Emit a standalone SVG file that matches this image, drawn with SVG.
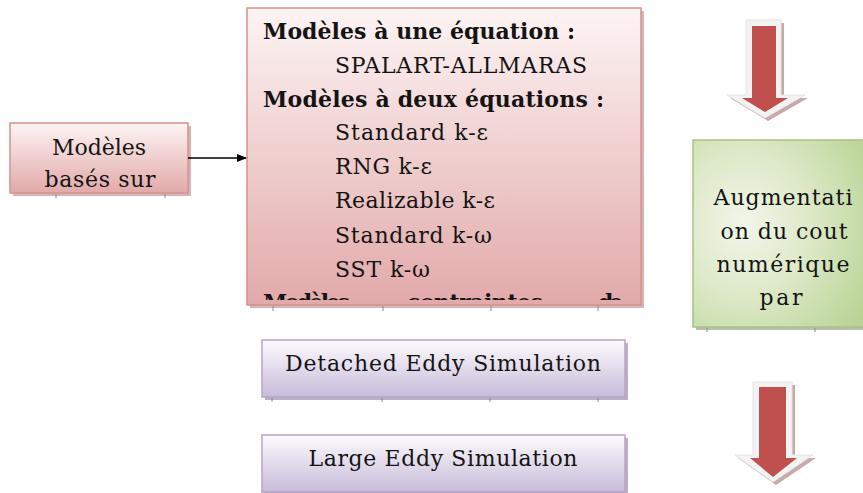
<svg xmlns="http://www.w3.org/2000/svg" width="863" height="493" viewBox="0 0 863 493">
  <defs>
    <linearGradient id="pinkFill" x1="0" y1="0" x2="0" y2="1">
      <stop offset="0" stop-color="#fdf4f4"/>
      <stop offset="1" stop-color="#e2a9a9"/>
    </linearGradient>
    <linearGradient id="lilacFill" x1="0" y1="0" x2="0" y2="1">
      <stop offset="0" stop-color="#fcfbfe"/>
      <stop offset="1" stop-color="#c8bbd9"/>
    </linearGradient>
    <radialGradient id="greenFill" cx="0.3" cy="0.45" r="0.85">
      <stop offset="0" stop-color="#f2f6ea"/>
      <stop offset="0.45" stop-color="#dde9c8"/>
      <stop offset="1" stop-color="#b8d394"/>
    </radialGradient>
    <marker id="arrowHead" markerWidth="10" markerHeight="8" refX="9" refY="4" orient="auto" markerUnits="userSpaceOnUse">
      <path d="M0,0 L10,4 L0,8 z" fill="#000"/>
    </marker>
    <clipPath id="mainClip">
      <rect x="248" y="9" width="392" height="291"/>
    </clipPath>
  </defs>
  <style>
    .t { font-family: "DejaVu Serif", "Liberation Serif", serif; font-size: 22px; fill: #141414; }
    .b { font-weight: bold; }
    .pink { fill: url(#pinkFill); stroke: #d9908f; stroke-width: 1.5; }
    .lilac { fill: url(#lilacFill); stroke: #b6a5ca; stroke-width: 1.5; }
    .green { fill: url(#greenFill); stroke: #a9c482; stroke-width: 1.5; }
    .shadow-p { fill: #c9a3a3; opacity: 0.8; }
    .shadow-l { fill: #a99fb4; opacity: 0.8; }
    .shadow-g { fill: #a7ae9c; opacity: 0.8; }
    .tick { stroke: #8a8a8a; stroke-width: 1; }
    .arrow-out { fill: #f3f3f3; stroke: #e4e4e4; stroke-width: 1; }
    .arrow-shadow { fill: #c9a9a9; }
    .arrow-in { fill: #c0504d; }
  </style>

  <!-- left box -->
  <g id="node-modeles">
    <rect class="shadow-p" x="13" y="126" width="178" height="70"/>
    <rect class="pink" x="10" y="123" width="178" height="70"/>
    <line class="tick" x1="56" y1="194" x2="56" y2="198"/>
    <line class="tick" x1="165" y1="194" x2="165" y2="198"/>
    <text class="t" x="99" y="155" text-anchor="middle" textLength="94">Modèles</text>
    <text class="t" x="100" y="187" text-anchor="middle" textLength="111">basés sur</text>
  </g>

  <!-- RANS model list -->
  <g id="node-rans">
    <rect class="shadow-p" x="250" y="11" width="394" height="297"/>
    <rect class="pink" x="247" y="8" width="394" height="297"/>
    <line class="tick" x1="273" y1="306" x2="273" y2="311"/>
    <line class="tick" x1="383" y1="306" x2="383" y2="311"/>
    <line class="tick" x1="491" y1="306" x2="491" y2="311"/>
    <line class="tick" x1="598" y1="306" x2="598" y2="311"/>
    <g clip-path="url(#mainClip)">
      <text class="t b" x="263" y="39" textLength="312">Modèles à une équation :</text>
      <text class="t" x="335" y="73" textLength="252">SPALART-ALLMARAS</text>
      <text class="t b" x="263" y="107" textLength="341">Modèles à deux équations :</text>
      <text class="t" x="335" y="140" textLength="153">Standard k-ε</text>
      <text class="t" x="335" y="174" textLength="97">RNG k-ε</text>
      <text class="t" x="335" y="208" textLength="160">Realizable k-ε</text>
      <text class="t" x="335" y="243" textLength="157">Standard k-ω</text>
      <text class="t" x="335" y="277" textLength="95">SST k-ω</text>
      <text class="t b" x="263" y="310" textLength="87">Modèles</text>
      <text class="t b" x="407" y="310" textLength="136">contraintes</text>
      <text class="t b" x="598" y="310" textLength="25">de</text>
    </g>
  </g>

  <!-- DES -->
  <g id="node-des">
    <rect class="shadow-l" x="265" y="343" width="363" height="57"/>
    <rect class="lilac" x="262" y="340" width="363" height="57"/>
    <line class="tick" x1="272" y1="398" x2="272" y2="402"/>
    <line class="tick" x1="382" y1="398" x2="382" y2="402"/>
    <line class="tick" x1="490" y1="398" x2="490" y2="402"/>
    <line class="tick" x1="598" y1="398" x2="598" y2="402"/>
    <text class="t" x="443" y="371" text-anchor="middle" textLength="316">Detached Eddy Simulation</text>
  </g>

  <!-- LES -->
  <g id="node-les">
    <rect class="shadow-l" x="265" y="438" width="363" height="57"/>
    <rect class="lilac" x="262" y="435" width="363" height="57"/>
    <text class="t" x="443" y="466" text-anchor="middle" textLength="269">Large Eddy Simulation</text>
  </g>

  <!-- cost box -->
  <g id="node-cout">
    <rect class="shadow-g" x="696" y="143" width="170" height="187"/>
    <rect class="green" x="693" y="140" width="172" height="187"/>
    <line class="tick" x1="707" y1="328" x2="707" y2="332"/>
    <line class="tick" x1="815" y1="328" x2="815" y2="332"/>
    <text class="t" x="783" y="205" text-anchor="middle" textLength="139">Augmentati</text>
    <text class="t" x="784" y="239" text-anchor="middle" textLength="127">on du cout</text>
    <text class="t" x="783" y="272" text-anchor="middle" textLength="133">numérique</text>
    <text class="t" x="781" y="305" text-anchor="middle" textLength="43">par</text>
  </g>

  <!-- block arrows -->
  <g id="arrow-top">
    <polygon class="arrow-shadow" points="749,23 784,23 784,98 808,98 768,121 730,98 749,98"/>
    <polygon class="arrow-out" points="746,20 781,20 781,95 805,95 765,118 727,95 746,95"/>
    <polygon class="arrow-in" points="752,26 776,26 776,98 788,98 765,112 742,98 752,98"/>
  </g>
  <g id="arrow-bottom">
    <polygon class="arrow-shadow" points="756,385 795,385 795,458 816,458 776,485 738,458 756,458"/>
    <polygon class="arrow-out" points="753,382 792,382 792,455 813,455 773,482 735,455 753,455"/>
    <polygon class="arrow-in" points="759,387 786,387 786,458 797,458 773,477 750,458 759,458"/>
  </g>

  <!-- connectors -->
  <g id="connectors">
    <line x1="188" y1="158" x2="246" y2="158" stroke="#000" stroke-width="1.5" marker-end="url(#arrowHead)"/>
  </g>
</svg>
